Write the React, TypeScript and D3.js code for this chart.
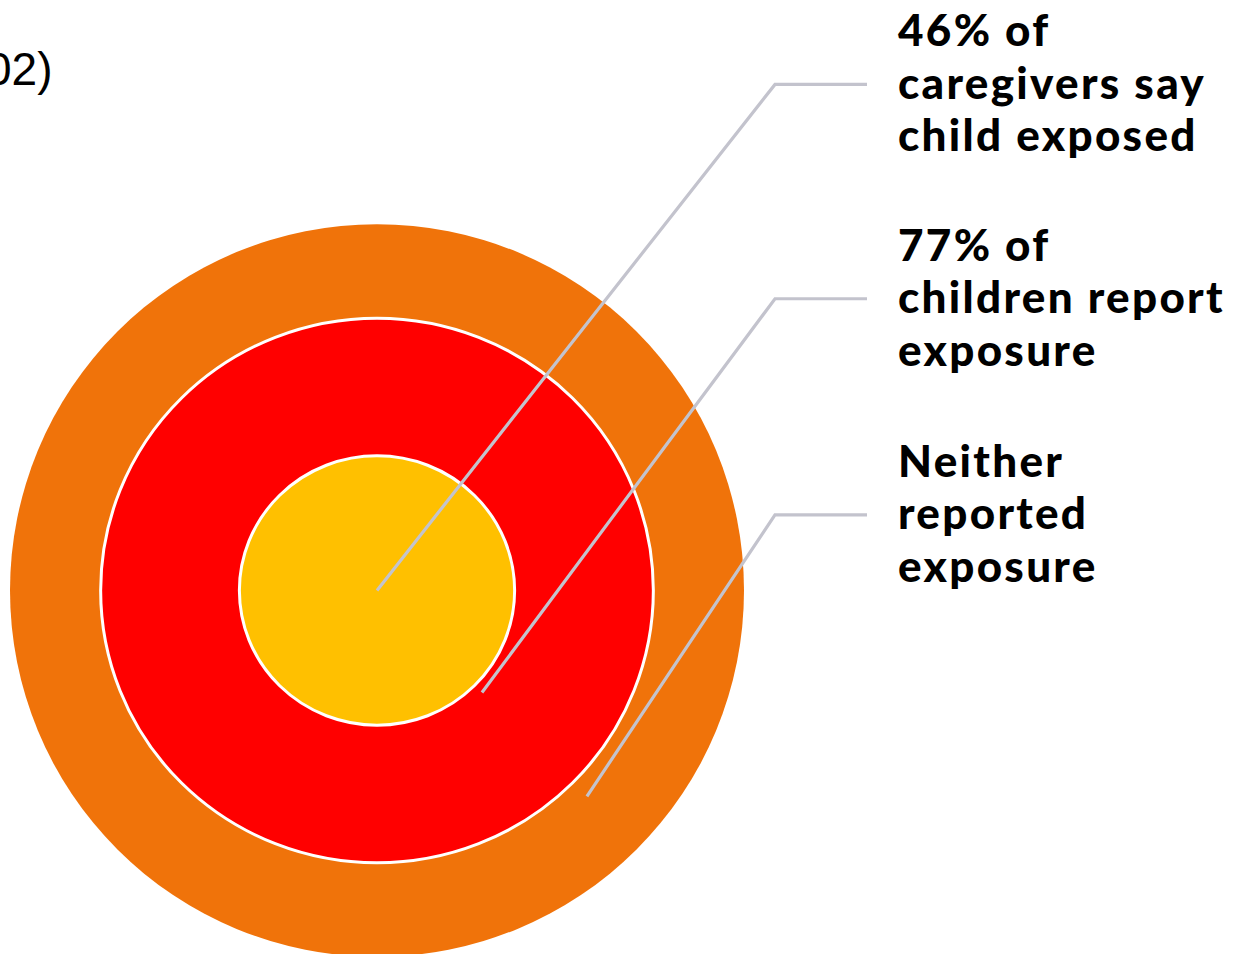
import React from "react";
import * as d3 from "d3";

const ringNames = ["Neither reported exposure", "77% of children report exposure", "46% of caregivers say child exposed"];
const ringColors = ["#F0730A", "#FF0000", "#FFC000"];
// relative horizontal / vertical extents of each ring (outer = 1)
const ringRx = [1, 0.753, 0.375];
const ringRy = [0.998, 0.742, 0.367];

const labelLines = [
  ["46% of", "caregivers say", "child exposed"],
  ["77% of", "children report", "exposure"],
  ["Neither", "reported", "exposure"],
];
// leader anchor points, in units of the outer radius from the centre
const leaderStart = [
  [0, 0],
  [0.286, 0.278],
  [0.572, 0.561],
];
const leaderKneeY = [-1.379, -0.795, -0.206];

const cornerText = "02)";

export default function App() {
  const W = 1235, H = 954;
  const cx = 377, cy = 590.5, R = 367;
  const sx = d3.scaleLinear().domain([-1, 1]).range([cx - R, cx + R]);
  const sy = d3.scaleLinear().domain([-1, 1]).range([cy - R, cy + R]);
  const kneeX = 775, endX = 867, textX = 898, lineH = 52.5;
  const line = d3.line<[number, number]>();

  return (
    <svg width={W} height={H} style={{ position: "absolute", left: 0, top: 0 }}>
      <rect width={W} height={H} fill="#fff" />
      <text x={-14} y={85} fontFamily="'Liberation Sans', Arial, sans-serif" fontSize={46} fill="#000">
        {cornerText}
      </text>
      {ringNames.map((n, i) => (
        <ellipse
          key={n}
          cx={cx}
          cy={cy}
          rx={sx(ringRx[i]) - cx}
          ry={sy(ringRy[i]) - cy}
          fill={ringColors[i]}
          stroke={i === 0 ? "none" : "#fff"}
          strokeWidth={3}
        />
      ))}
      {labelLines.map((lines, i) => {
        const ky = sy(leaderKneeY[i]);
        const pts: [number, number][] = [
          [sx(leaderStart[i][0]), sy(leaderStart[i][1])],
          [kneeX, ky],
          [endX, ky],
        ];
        return (
          <g key={i}>
            <path d={line(pts) || ""} fill="none" stroke="#C3C3CD" strokeWidth={3.2} />
            <text
              x={textX}
              y={ky - 38}
              fontFamily="Lato, 'Open Sans', sans-serif"
              fontWeight={900}
              fontSize={44}
              fill="#000"
              letterSpacing={2.3}
            >
              {lines.map((t, j) => (
                <tspan key={j} x={textX} dy={j === 0 ? 0 : lineH}>
                  {t}
                </tspan>
              ))}
            </text>
          </g>
        );
      })}
    </svg>
  );
}
